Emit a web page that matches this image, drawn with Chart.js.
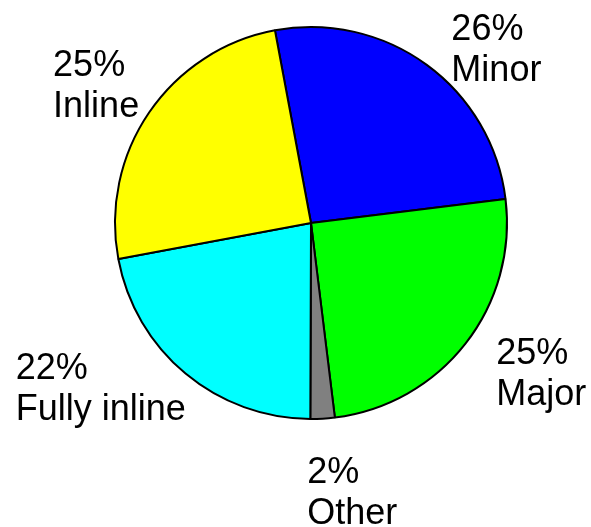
<!DOCTYPE html>
<html>
<head>
<meta charset="utf-8">
<script src="https://cdn.jsdelivr.net/npm/chart.js@4.4.0/dist/chart.umd.min.js"></script>
<style>
  body { margin: 0; background: #fff; }
  canvas { display: block; }
</style>
</head>
<body>
<canvas id="myChart" width="591" height="527"></canvas>
<script>
// slice data, clockwise from the top
const categories = ['Minor', 'Major', 'Other', 'Fully inline', 'Inline'];
const shares = [26, 25, 2, 22, 25];
const sliceColors = ['#0000ff', '#00ff00', '#808080', '#00ffff', '#ffff00'];

// small nudges for the outside labels (x, y in px)
const labelNudge = [[33, 33], [27, -10], [26, 10], [-45, -35], [-2, 6]];

const outsideLabels = {
  id: 'outsideLabels',
  afterDatasetsDraw(chart) {
    const ctx = chart.ctx;
    const meta = chart.getDatasetMeta(0);
    const total = shares.reduce((a, b) => a + b, 0);
    const fontSize = 36;
    const lineHeight = 41;
    const cap = fontSize * 0.716;
    ctx.save();
    ctx.font = fontSize + 'px "Liberation Sans", Arial, sans-serif';
    ctx.fillStyle = '#000';
    ctx.textAlign = 'left';
    ctx.textBaseline = 'alphabetic';
    meta.data.forEach((arc, i) => {
      const p = arc.getProps(['x', 'y', 'startAngle', 'endAngle', 'outerRadius'], true);
      const mid = (p.startAngle + p.endAngle) / 2;
      const dist = p.outerRadius + 62;
      const lines = [Math.round(shares[i] / total * 100) + '%', categories[i]];
      const w = Math.max(...lines.map(t => ctx.measureText(t).width));
      const h = cap + lineHeight;
      const cx = p.x + Math.cos(mid) * dist + labelNudge[i][0];
      const cy = p.y + Math.sin(mid) * dist + labelNudge[i][1];
      const left = cx - w / 2;
      const base = cy - h / 2 + cap;
      lines.forEach((t, j) => ctx.fillText(t, left, base + j * lineHeight));
    });
    ctx.restore();
  }
};

const ctx = document.getElementById('myChart').getContext('2d');
const myChart = new Chart(ctx, {
  type: 'pie',
  data: {
    labels: categories,
    datasets: [{
      data: shares,
      backgroundColor: sliceColors,
      borderColor: '#000',
      borderWidth: 2
    }]
  },
  options: {
    responsive: false,
    animation: false,
    rotation: -10.6,
    radius: 196,
    layout: {
      padding: { left: 31, right: 0, top: 0, bottom: 81 }
    },
    plugins: {
      legend: { display: false },
      tooltip: { enabled: false }
    }
  },
  plugins: [outsideLabels]
});
</script>
</body>
</html>
